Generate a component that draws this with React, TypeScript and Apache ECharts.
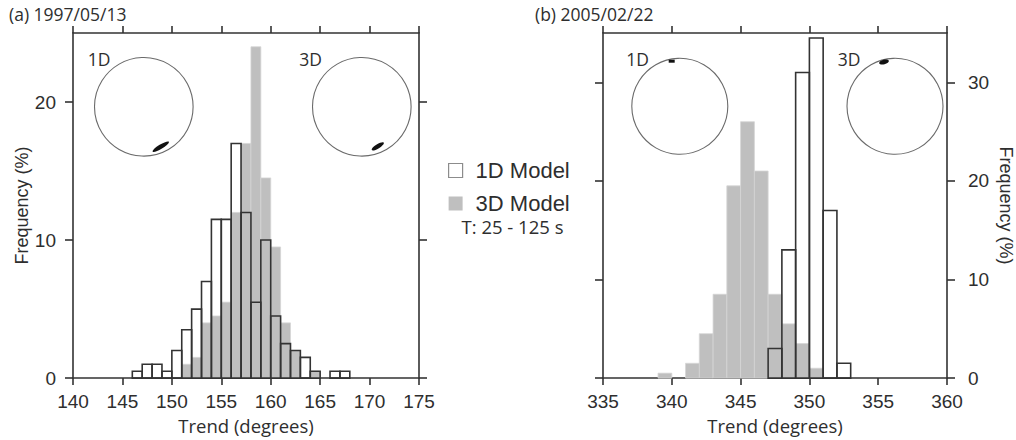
import React, { useEffect, useRef } from "react";
import * as echarts from "echarts";

// ---------- data ----------
const binWidth = 1; // degrees
// (a) 1997/05/13 — bin start (degrees)
const trendBinsA = [146, 147, 148, 149, 150, 151, 152, 153, 154, 155, 156, 157, 158, 159, 160, 161, 162, 163, 164, 165, 166, 167];
const freq1DA = [0.5, 1, 1, 0.5, 2, 3.5, 5, 7, 11.5, 11.5, 17, 12, 5.5, 10, 4.5, 2.5, 2, 1.5, 0.5, 0, 0.5, 0.5];
const freq3DA = [0, 0, 0, 0, 0, 1, 1.5, 4, 4.5, 5.5, 12, 17, 24, 14.5, 9.5, 4, 2, 0, 0.5, 0, 0, 0];
// (b) 2005/02/22
const trendBinsB = [339, 340, 341, 342, 343, 344, 345, 346, 347, 348, 349, 350, 351, 352];
const freq1DB = [0, 0, 0, 0, 0, 0, 0, 0, 3, 13, 31, 34.5, 17, 1.5];
const freq3DB = [0.5, 0, 1.5, 4.5, 8.5, 19.5, 26, 21, 8.5, 5.5, 3.5, 1, 0, 0];

const yTicksA = [0, 10, 20];
const yTicksB = [0, 10, 20, 30];
const xRangeA = [140, 175];
const xRangeB = [335, 360];
const yMaxA = 25;
const yMaxB = 35;

const seriesNames = ["1D Model", "3D Model"];
const titles = ["(a) 1997/05/13", "(b) 2005/02/22"];
const periodText = "T: 25 - 125 s";

// ---------- styles ----------
const INK = "#2e2e2e";
const GRAY = "#bfbfbf";
const NUM_FONT = "'Liberation Sans', Arial, sans-serif";
const TXT_FONT = "'Open Sans', 'Noto Sans', sans-serif";
const lineStyle = { color: "#333333", width: 1.6 };

function toBins(starts: number[], vals: number[]) {
  return starts
    .map((s, i) => [s, s + binWidth, vals[i]])
    .filter((d) => d[2] > 0);
}

function makeRender(style: any) {
  return (params: any, api: any) => {
    const x0 = api.value(0);
    const x1 = api.value(1);
    const v = api.value(2);
    const p0 = api.coord([x0, 0]);
    const p1 = api.coord([x1, v]);
    return {
      type: "rect",
      shape: { x: p0[0], y: p1[1], width: p1[0] - p0[0], height: p0[1] - p1[1] },
      style,
    };
  };
}

const render1D = makeRender({ fill: "transparent", stroke: "#333333", lineWidth: 1.6 });
const render3D = makeRender({ fill: GRAY, stroke: "#d4d4d4", lineWidth: 0.8 });

function xAxis(grid: number, range: number[], position: "top" | "bottom", labels: boolean) {
  return {
    type: "value",
    gridIndex: grid,
    position,
    min: range[0],
    max: range[1],
    interval: 5,
    splitLine: { show: false },
    axisLine: { show: true, onZero: false, lineStyle },
    axisTick: { show: true, inside: false, length: 7, lineStyle },
    axisLabel: {
      show: labels,
      fontSize: 19,
      margin: 14,
      color: INK,
      fontFamily: NUM_FONT,
    },
    name: labels ? "Trend (degrees)" : "",
    nameLocation: "middle",
    nameGap: 29,
    nameTextStyle: { fontSize: 18.5, fontWeight: 500, color: INK, fontFamily: TXT_FONT },
  };
}

function yAxis(grid: number, max: number, ticks: number[], position: "left" | "right", labels: boolean) {
  return {
    type: "value",
    gridIndex: grid,
    position,
    min: 0,
    max,
    interval: 10,
    splitLine: { show: false },
    axisLine: { show: true, onZero: false, lineStyle },
    axisTick: { show: true, inside: false, length: 8, lineStyle, customValues: ticks },
    axisLabel: {
      show: labels,
      customValues: ticks,
      fontSize: 19,
      margin: position === "left" ? 17 : 21,
      color: INK,
      fontFamily: NUM_FONT,
    },
    name: labels ? "Frequency (%)" : "",
    nameLocation: "middle",
    nameGap: position === "left" ? 42 : 50,
    nameRotate: position === "left" ? 90 : -90,
    nameTextStyle: { fontSize: 18, color: INK, fontFamily: NUM_FONT },
  };
}

export default function App() {
  const ref = useRef<HTMLDivElement>(null);

  useEffect(() => {
    if (!ref.current) return;
    const chart = echarts.init(ref.current, undefined, { renderer: "svg" });

    const circleStyle = { fill: "none", stroke: "#6a6a6a", lineWidth: 1.1 };
    const labelStyle = (text: string) => ({
      text,
      fontSize: 17.5,
      fontFamily: TXT_FONT,
      fontWeight: 500,
      fill: INK,
      align: "center",
      verticalAlign: "middle",
    });
    const titleStyle = { fontSize: 17.5, fontWeight: 500, color: INK, fontFamily: TXT_FONT };

    chart.setOption({
      animation: false,
      backgroundColor: "#ffffff",
      title: [
        { text: titles[0], left: 9, top: 5, padding: 0, textStyle: titleStyle },
        { text: titles[1], left: 535, top: 5, padding: 0, textStyle: titleStyle },
      ],
      legend: {
        orient: "vertical",
        left: 448,
        top: 159,
        padding: 0,
        itemWidth: 14,
        itemHeight: 14,
        itemGap: 10,
        selectedMode: false,
        textStyle: {
          fontSize: 22,
          lineHeight: 23,
          color: INK,
          fontFamily: NUM_FONT,
          padding: [0, 0, 0, 8],
        },
        data: [
          { name: seriesNames[0], icon: "rect", itemStyle: { color: "#ffffff", borderColor: "#8c8c8c", borderWidth: 1.2 } },
          { name: seriesNames[1], icon: "rect", itemStyle: { color: GRAY, borderWidth: 0 } },
        ],
      },
      grid: [
        { left: 73, top: 33, width: 346, height: 346 },
        { left: 603, top: 33, width: 345, height: 346 },
      ],
      xAxis: [
        xAxis(0, xRangeA, "bottom", true),
        xAxis(0, xRangeA, "top", false),
        xAxis(1, xRangeB, "bottom", true),
        xAxis(1, xRangeB, "top", false),
      ],
      yAxis: [
        yAxis(0, yMaxA, yTicksA, "left", true),
        yAxis(0, yMaxA, yTicksA, "right", false),
        yAxis(1, yMaxB, yTicksB, "left", false),
        yAxis(1, yMaxB, yTicksB, "right", true),
      ],
      series: [
        {
          type: "custom",
          name: seriesNames[1],
          xAxisIndex: 0,
          yAxisIndex: 0,
          data: toBins(trendBinsA, freq3DA),
          encode: { x: [0, 1], y: 2 },
          itemStyle: { color: GRAY },
          renderItem: render3D,
        },
        {
          type: "custom",
          name: seriesNames[0],
          xAxisIndex: 0,
          yAxisIndex: 0,
          data: toBins(trendBinsA, freq1DA),
          encode: { x: [0, 1], y: 2 },
          itemStyle: { color: "#ffffff", borderColor: "#333333" },
          renderItem: render1D,
        },
        {
          type: "custom",
          name: seriesNames[1],
          xAxisIndex: 2,
          yAxisIndex: 3,
          data: toBins(trendBinsB, freq3DB),
          encode: { x: [0, 1], y: 2 },
          itemStyle: { color: GRAY },
          renderItem: render3D,
        },
        {
          type: "custom",
          name: seriesNames[0],
          xAxisIndex: 2,
          yAxisIndex: 3,
          data: toBins(trendBinsB, freq1DB),
          encode: { x: [0, 1], y: 2 },
          itemStyle: { color: "#ffffff", borderColor: "#333333" },
          renderItem: render1D,
        },
      ],
      graphic: [
        // panel (a) insets
        { type: "circle", shape: { cx: 143.8, cy: 106.8, r: 49.3 }, style: circleStyle },
        { type: "circle", shape: { cx: 361.8, cy: 106.8, r: 49.3 }, style: circleStyle },
        { type: "text", x: 99, y: 59, style: labelStyle("1D") },
        { type: "text", x: 310.5, y: 59, style: labelStyle("3D") },
        { type: "ellipse", x: 160.8, y: 146.7, rotation: 0.55, shape: { cx: 0, cy: 0, rx: 9.5, ry: 2.2 }, style: { fill: "#111" } },
        { type: "ellipse", x: 377.8, y: 146.4, rotation: 0.55, shape: { cx: 0, cy: 0, rx: 7, ry: 2.1 }, style: { fill: "#111" } },
        // panel (b) insets
        { type: "circle", shape: { cx: 679.8, cy: 106.3, r: 48 }, style: circleStyle },
        { type: "circle", shape: { cx: 895, cy: 106.3, r: 48 }, style: circleStyle },
        { type: "text", x: 637.5, y: 59, style: labelStyle("1D") },
        { type: "text", x: 849, y: 59, style: labelStyle("3D") },
        { type: "rect", shape: { x: 668.7, y: 59.7, width: 6, height: 3 }, style: { fill: "#111" } },
        { type: "ellipse", x: 884, y: 62, rotation: 0.25, shape: { cx: 0, cy: 0, rx: 5, ry: 2.3 }, style: { fill: "#111" } },
        // legend note
        {
          type: "text",
          x: 512.5,
          y: 226,
          style: {
            text: periodText,
            fontSize: 18.5,
            fontWeight: 500,
            fontFamily: TXT_FONT,
            fill: INK,
            align: "center",
            verticalAlign: "middle",
          },
        },
      ],
    });

    return () => chart.dispose();
  }, []);

  return (
    <div
      ref={ref}
      style={{ position: "fixed", left: 0, top: 0, width: 1016, height: 440, background: "#fff" }}
    />
  );
}
